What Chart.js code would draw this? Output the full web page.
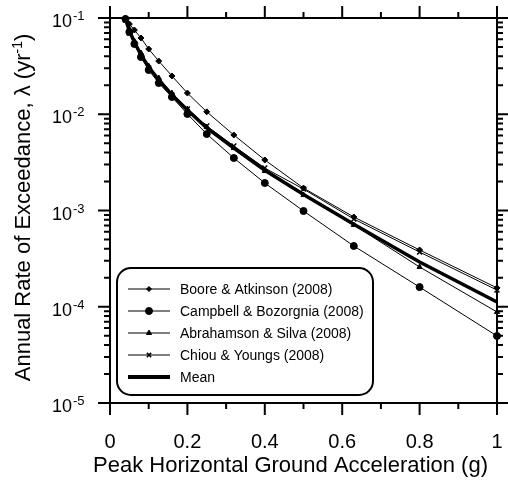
<!DOCTYPE html>
<html>
<head>
<meta charset="utf-8">
<script src="https://cdn.jsdelivr.net/npm/chart.js@4/dist/chart.umd.min.js"></script>
<style>
  html, body { margin: 0; padding: 0; background: #fff; }
  #wrap { width: 508px; height: 481px; position: relative; }
</style>
</head>
<body>
<div id="wrap"><canvas id="c" width="508" height="481"></canvas></div>
<script>
// ---- data ----
const pga = [0.04, 0.05, 0.063, 0.08, 0.1, 0.126, 0.16, 0.2, 0.25, 0.32, 0.4, 0.5, 0.63, 0.8, 1.0];
const seriesNames = ["Boore & Atkinson (2008)", "Campbell & Bozorgnia (2008)", "Abrahamson & Silva (2008)", "Chiou & Youngs (2008)", "Mean"];
const booreAtkinson = [0.1, 0.0866, 0.075, 0.062, 0.0476, 0.0357, 0.025, 0.0166, 0.0106, 0.00609, 0.00335, 0.00171, 0.000856, 0.000389, 0.000157];
const campbellBozorgnia = [0.0976, 0.0715, 0.0537, 0.0393, 0.0288, 0.0211, 0.0151, 0.01006, 0.00623, 0.00351, 0.00193, 0.000988, 0.000428, 0.00016, 0.0000497];
const abrahamsonSilva = [0.1, 0.0769, 0.0577, 0.0433, 0.0317, 0.0238, 0.0166, 0.01134, 0.00737, 0.00446, 0.00257, 0.00145, 0.000707, 0.000259, 0.0000882];
const chiouYoungs = [0.0953, 0.0699, 0.0537, 0.0403, 0.0302, 0.0222, 0.0158, 0.01134, 0.00755, 0.00468, 0.00276, 0.00167, 0.000816, 0.00037, 0.000149];
const meanCurve = [0.0976, 0.0733, 0.0563, 0.0413, 0.031, 0.0227, 0.0158, 0.01107, 0.0072, 0.00446, 0.00262, 0.00147, 0.00072, 0.000292, 0.000112];
const xMajorTicks = [0, 0.2, 0.4, 0.6, 0.8, 1];
const xMinorTicks = [0.1, 0.3, 0.5, 0.7, 0.9];
const yMajorTicks = [1e-5, 1e-4, 1e-3, 1e-2, 1e-1];
const yTickBase = "10";
const yTickExponents = ["-5", "-4", "-3", "-2", "-1"];
const xTitle = "Peak Horizontal Ground Acceleration (g)";
const yTitleParts = ["Annual Rate of Exceedance, \u03BB (yr", "-1", ")"];

const FONT = "'Liberation Sans', Arial, sans-serif";

function mk(label, arr, style, radius, width) {
  return {
    label: label,
    data: pga.map((x, i) => ({x: x, y: arr[i]})),
    borderColor: '#000',
    backgroundColor: '#000',
    borderWidth: width,
    pointStyle: style,
    pointRadius: radius,
    pointBorderWidth: style === 'crossRot' ? 1.5 : 1,
    pointBackgroundColor: '#000',
    pointBorderColor: '#000',
    tension: 0,
    clip: false
  };
}

const datasets = [
  mk(seriesNames[0], booreAtkinson, 'rectRot', 3, 1),
  mk(seriesNames[1], campbellBozorgnia, 'circle', 3.5, 1),
  mk(seriesNames[2], abrahamsonSilva, 'triangle', 3, 1),
  mk(seriesNames[3], chiouYoungs, 'crossRot', 3.5, 1),
  mk(seriesNames[4], meanCurve, 'circle', 0, 3.5)
];

const framePlugin = {
  id: 'frame',
  afterDatasetsDraw(chart) {
    const ctx = chart.ctx;
    const a = chart.chartArea;
    const xs = chart.scales.x, ys = chart.scales.y;
    ctx.save();
    ctx.strokeStyle = '#000';
    ctx.lineWidth = 2;
    ctx.strokeRect(a.left, a.top, a.right - a.left, a.bottom - a.top);
    const MAJ = 12, MIN = 6;
    ctx.beginPath();
    const xt = (v, len) => {
      const px = xs.getPixelForValue(v);
      ctx.moveTo(px, a.bottom); ctx.lineTo(px, a.bottom + len);
      ctx.moveTo(px, a.top); ctx.lineTo(px, a.top - len);
    };
    xMajorTicks.forEach(v => xt(v, MAJ));
    xMinorTicks.forEach(v => xt(v, MIN));
    const yt = (v, len) => {
      const py = ys.getPixelForValue(v);
      ctx.moveTo(a.left, py); ctx.lineTo(a.left - len, py);
      ctx.moveTo(a.right, py); ctx.lineTo(a.right + len, py);
    };
    yMajorTicks.forEach(v => yt(v, MAJ));
    yMajorTicks.slice(0, -1).forEach(d => { for (let k = 2; k <= 9; k++) yt(d * k, MIN); });
    ctx.stroke();
    ctx.fillStyle = '#000';
    ctx.textBaseline = 'alphabetic';
    // y tick labels: 10 with superscript exponent
    yMajorTicks.forEach((v, i) => {
      const py = ys.getPixelForValue(v);
      ctx.font = "18px " + FONT;
      ctx.textAlign = 'right';
      ctx.fillText(yTickBase, a.left - 38, py + 9);
      ctx.font = "13px " + FONT;
      ctx.textAlign = 'left';
      ctx.fillText(yTickExponents[i], a.left - 37, py + 2);
    });
    // x axis title
    ctx.font = "22px " + FONT;
    ctx.textAlign = 'center';
    ctx.fillText(xTitle, 290.5, 472);
    // y axis title (rotated, with superscript)
    ctx.save();
    ctx.translate(30, 207.5);
    ctx.rotate(-Math.PI / 2);
    ctx.textAlign = 'left';
    ctx.font = "22px " + FONT;
    const w1 = ctx.measureText(yTitleParts[0]).width;
    const w3 = ctx.measureText(yTitleParts[2]).width;
    ctx.font = "14px " + FONT;
    const w2 = ctx.measureText(yTitleParts[1]).width;
    let x0 = -(w1 + w2 + w3) / 2;
    ctx.font = "22px " + FONT;
    ctx.fillText(yTitleParts[0], x0, 0);
    ctx.font = "14px " + FONT;
    ctx.fillText(yTitleParts[1], x0 + w1, -8);
    ctx.font = "22px " + FONT;
    ctx.fillText(yTitleParts[2], x0 + w1 + w2, 0);
    ctx.restore();
    ctx.restore();
  }
};

const legendPlugin = {
  id: 'boxLegend',
  afterDraw(chart) {
    const ctx = chart.ctx;
    const bx = 117, by = 268, bw = 256, bh = 127, r = 14;
    ctx.save();
    ctx.fillStyle = '#fff';
    ctx.strokeStyle = '#000';
    ctx.lineWidth = 2;
    ctx.beginPath();
    ctx.roundRect(bx, by, bw, bh, r);
    ctx.fill();
    ctx.stroke();
    const radii = [2.5, 3.5, 3, 3, 0];
    chart.data.datasets.forEach((ds, i) => {
      const y = 289 + i * 22;
      ctx.beginPath();
      ctx.lineWidth = ds.borderWidth === 1 ? 1 : 4;
      ctx.strokeStyle = '#000';
      ctx.moveTo(128, y); ctx.lineTo(170, y);
      ctx.stroke();
      if (ds.pointRadius > 0) {
        ctx.lineWidth = ds.pointBorderWidth;
        ctx.fillStyle = '#000';
        Chart.helpers.drawPoint(ctx, {pointStyle: ds.pointStyle, radius: radii[i], rotation: 0, borderWidth: ds.pointBorderWidth}, 149, y);
      }
      ctx.fillStyle = '#000';
      ctx.font = "14px " + FONT;
      ctx.textBaseline = 'middle';
      ctx.textAlign = 'left';
      ctx.fillText(ds.label, 180, y + 1);
    });
    ctx.restore();
  }
};

new Chart(document.getElementById('c'), {
  type: 'line',
  data: { datasets: datasets },
  plugins: [framePlugin, legendPlugin],
  options: {
    responsive: false,
    animation: false,
    layout: { padding: { top: 18, right: 11, left: 0, bottom: 0 } },
    plugins: { legend: { display: false }, tooltip: { enabled: false } },
    scales: {
      x: {
        type: 'linear',
        min: 0, max: 1,
        afterFit: s => { s.height = 78; s.paddingLeft = 0; s.paddingRight = 0; },
        afterBuildTicks: s => { s.ticks = xMajorTicks.map(v => ({value: v})); },
        grid: { display: false, drawTicks: false },
        border: { display: false },
        ticks: {
          color: '#000',
          padding: 27,
          maxRotation: 0,
          font: { family: FONT, size: 20 },
          callback: v => String(v)
        },
        title: { display: false }
      },
      y: {
        type: 'logarithmic',
        min: 1e-5, max: 1e-1,
        afterFit: s => { s.width = 110; s.paddingTop = 0; s.paddingBottom = 0; },
        afterBuildTicks: s => { s.ticks = yMajorTicks.map(v => ({value: v})); },
        grid: { display: false, drawTicks: false },
        border: { display: false },
        ticks: { display: false },
        title: { display: false }
      }
    }
  }
});
</script>
</body>
</html>
